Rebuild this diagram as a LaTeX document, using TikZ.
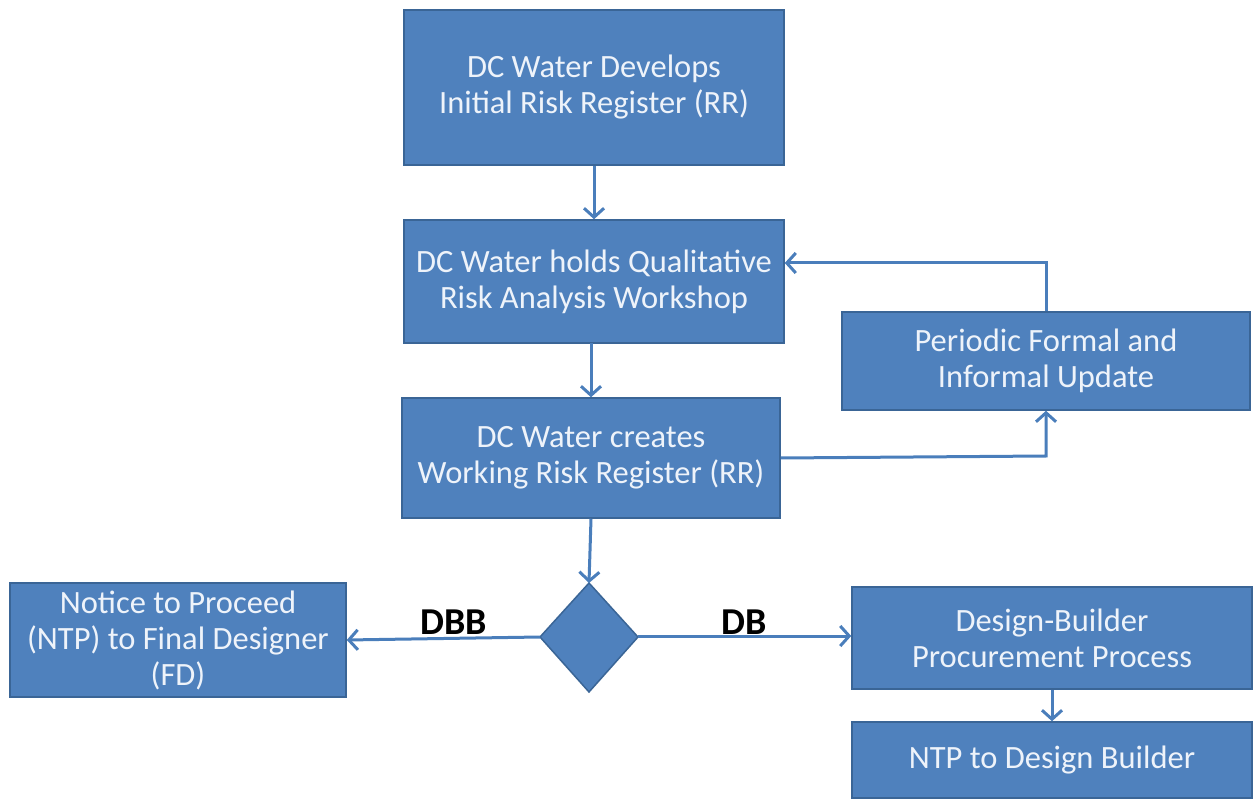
\documentclass[tikz,border=0pt]{standalone}
\usepackage{fontspec}
\setmainfont{Carlito}
\usetikzlibrary{arrows.meta}
\definecolor{boxfill}{HTML}{4F81BD}
\definecolor{boxline}{HTML}{3A6596}
\definecolor{arrowc}{HTML}{4A7EBB}
\definecolor{txt}{HTML}{EEF3FA}
\begin{document}
\begin{tikzpicture}[x=1pt,y=-1pt,
  box/.style={draw=boxline,line width=1.5pt,fill=boxfill,text=txt,align=center,
    inner sep=0pt,font=\fontsize{32.5}{36}\selectfont},
  conn/.style={draw=arrowc,line width=3pt,-{Straight Barb[length=9pt,width=20pt,line width=3pt]}},
  lbl/.style={font=\fontsize{38}{40}\selectfont\bfseries,text=black}]
\useasboundingbox (0,0) rectangle (1253,799);
\node[box,minimum width=380pt,minimum height=155pt] (b1) at (594,87.5) {DC Water Develops\\Initial Risk Register (RR)};
\node[box,minimum width=380pt,minimum height=123pt] (b2) at (594,281.5) {DC Water holds Qualitative\\Risk Analysis Workshop};
\node[box,minimum width=378pt,minimum height=120pt] (b3) at (591,458) {DC Water creates\\Working Risk Register (RR)};
\node[box,minimum width=408pt,minimum height=98pt] (per) at (1046,361) {Periodic Formal and\\Informal Update};
\node[box,minimum width=336pt,minimum height=114pt] (ntp) at (178,640) {Notice to Proceed\\(NTP) to Final Designer\\(FD)};
\node[box,minimum width=400pt,minimum height=102pt] (dbp) at (1052,638) {Design-Builder\\Procurement Process};
\node[box,minimum width=400pt,minimum height=76pt] (ntpd) at (1052,760) {NTP to Design Builder};
\draw[draw=boxline,line width=1.5pt,fill=boxfill] (589,583) -- (638,637) -- (589,692) -- (540,637) -- cycle;
\coordinate (dtop) at (589,583);
\coordinate (dleft) at (540,637);
\coordinate (dright) at (638,636);
\draw[conn] (b1.south) -- (b2.south |- b2.north);
\draw[conn] (591,343) -- (b3.north);
\draw[conn] (b3.east |- 0,458) -- (1046,456) -- (per.south);
\draw[conn] (per.north) -- (1046,263) -- (b2.east |- 0,263);
\draw[conn] (b3.south) -- (dtop);
\draw[conn] (dleft) -- (ntp.east |- 0,640);
\draw[conn] (dright) -- (dbp.west |- 0,636);
\draw[conn] (dbp.south) -- (ntpd.north);
\node[lbl] (dbb) at (454,622) {DBB};
\node[lbl] (db) at (744,622) {DB};
\end{tikzpicture}
\end{document}
